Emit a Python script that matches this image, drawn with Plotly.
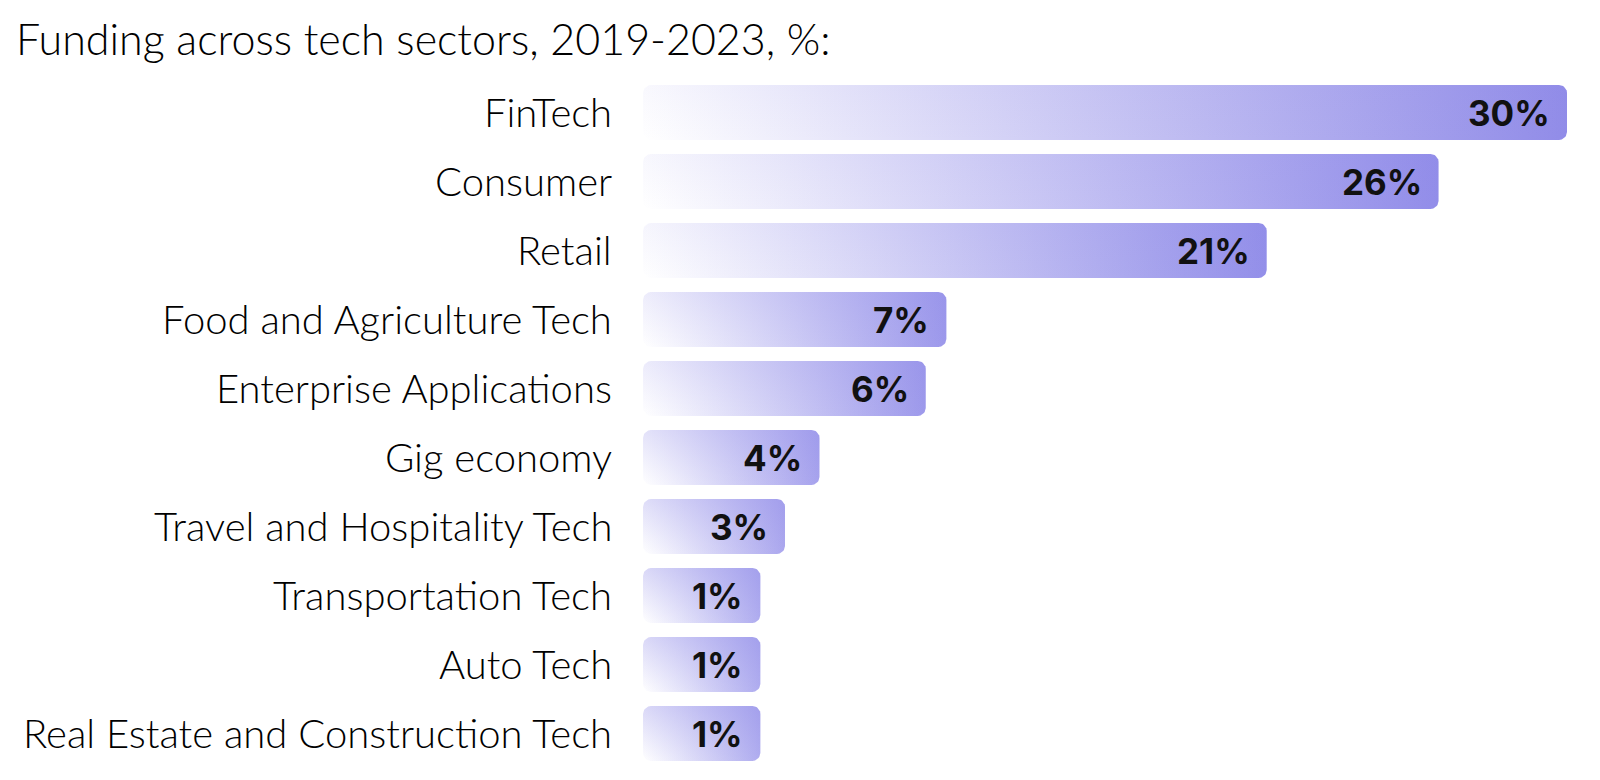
import numpy as np
import plotly.graph_objects as go

# --- data ---
sectors = [
    "FinTech",
    "Consumer",
    "Retail",
    "Food and Agriculture Tech",
    "Enterprise Applications",
    "Gig economy",
    "Travel and Hospitality Tech",
    "Transportation Tech",
    "Auto Tech",
    "Real Estate and Construction Tech",
]
shares = [30, 26, 21, 7, 6, 4, 3, 1, 1, 1]
# drawn bar length on the % axis (small bars are padded to fit their label)
bar_extent = [30.0, 25.83, 20.25, 9.85, 9.18, 5.73, 4.61, 3.81, 3.81, 3.81]

title_text = "Funding across tech sectors, 2019-2023, %:"

# --- layout constants ---
W, H = 1600, 780
margin = dict(l=635, r=41, t=70, b=20)
x_max = 30
bar_half = 0.398
radius_px = 8

px_per_x = (W - margin["l"] - margin["r"]) / x_max
px_per_y = (H - margin["t"] - margin["b"]) / len(sectors)
rx = radius_px / px_per_x
ry = radius_px / px_per_y

c_light = np.array([255, 255, 255])
c_dark = np.array([138, 133, 231])


def rgb(c, a=None):
    c = [int(round(v)) for v in c]
    if a is None:
        return f"rgb({c[0]},{c[1]},{c[2]})"
    return f"rgba({c[0]},{c[1]},{c[2]},{a:.3f})"


def rounded_bar(x1, yc, h, rx, ry, n=10):
    y0, y1 = yc - h, yc + h
    xs, ys = [], []
    arcs = [
        (x1 - rx, y1 - ry, 0, 90),
        (rx, y1 - ry, 90, 180),
        (rx, y0 + ry, 180, 270),
        (x1 - rx, y0 + ry, 270, 360),
    ]
    for cx, cy, a0, a1 in arcs:
        t = np.radians(np.linspace(a0, a1, n))
        xs.extend(cx + rx * np.cos(t))
        ys.extend(cy + ry * np.sin(t))
    xs.append(xs[0])
    ys.append(ys[0])
    return xs, ys


fig = go.Figure()

# 45deg gradient (bottom-left light -> top-right dark), built as a
# horizontal gradient plus a vertical tint on top
bar_h_px = 2 * bar_half * px_per_y
for i, ext in enumerate(bar_extent):
    xs, ys = rounded_bar(ext, i, bar_half, rx, ry)
    w_px = ext * px_per_x
    fx = w_px / (w_px + bar_h_px)
    c_right = c_light + (c_dark - c_light) * fx
    fig.add_trace(go.Scatter(
        x=xs, y=ys, mode="lines", fill="toself",
        line=dict(width=0, color="rgba(0,0,0,0)"),
        fillgradient=dict(type="horizontal",
                          colorscale=[[0, rgb(c_light)], [1, rgb(c_right)]]),
        hoverinfo="skip", showlegend=False,
    ))
    fig.add_trace(go.Scatter(
        x=xs, y=ys, mode="lines", fill="toself",
        line=dict(width=0, color="rgba(0,0,0,0)"),
        fillgradient=dict(type="vertical",
                          start=i + bar_half, stop=i - bar_half,
                          colorscale=[[0, rgb(c_dark, 0)], [1, rgb(c_dark, 1 - fx)]]),
        hoverinfo="skip", showlegend=False,
    ))

# category labels, right-aligned left of the bars
for i, name in enumerate(sectors):
    fig.add_annotation(
        x=0, y=i, text=name, showarrow=False,
        xanchor="right", yanchor="middle", xshift=-29, yshift=1,
        font=dict(family="Lato", size=40, weight=300, color="#000000"),
    )

# value labels inside the bar ends
for i, (v, ext) in enumerate(zip(shares, bar_extent)):
    fig.add_annotation(
        x=ext, y=i, text=f"<b>{v}%</b>", showarrow=False,
        xanchor="right", yanchor="middle", xshift=-15,
        font=dict(family="Inter", size=35, color="#111111"),
    )

fig.update_xaxes(range=[0, x_max], visible=False, fixedrange=True)
fig.update_yaxes(range=[len(sectors) - 0.5, -0.5], visible=False, fixedrange=True)

fig.update_layout(
    width=W, height=H,
    margin=margin,
    plot_bgcolor="white",
    paper_bgcolor="white",
    title=dict(
        text=title_text,
        x=8 / W, xanchor="left",
        y=1 - 32 / H, yanchor="middle",
        font=dict(family="Lato", size=43, weight=300, color="#000000"),
    ),
)

fig.write_html("out.html")
